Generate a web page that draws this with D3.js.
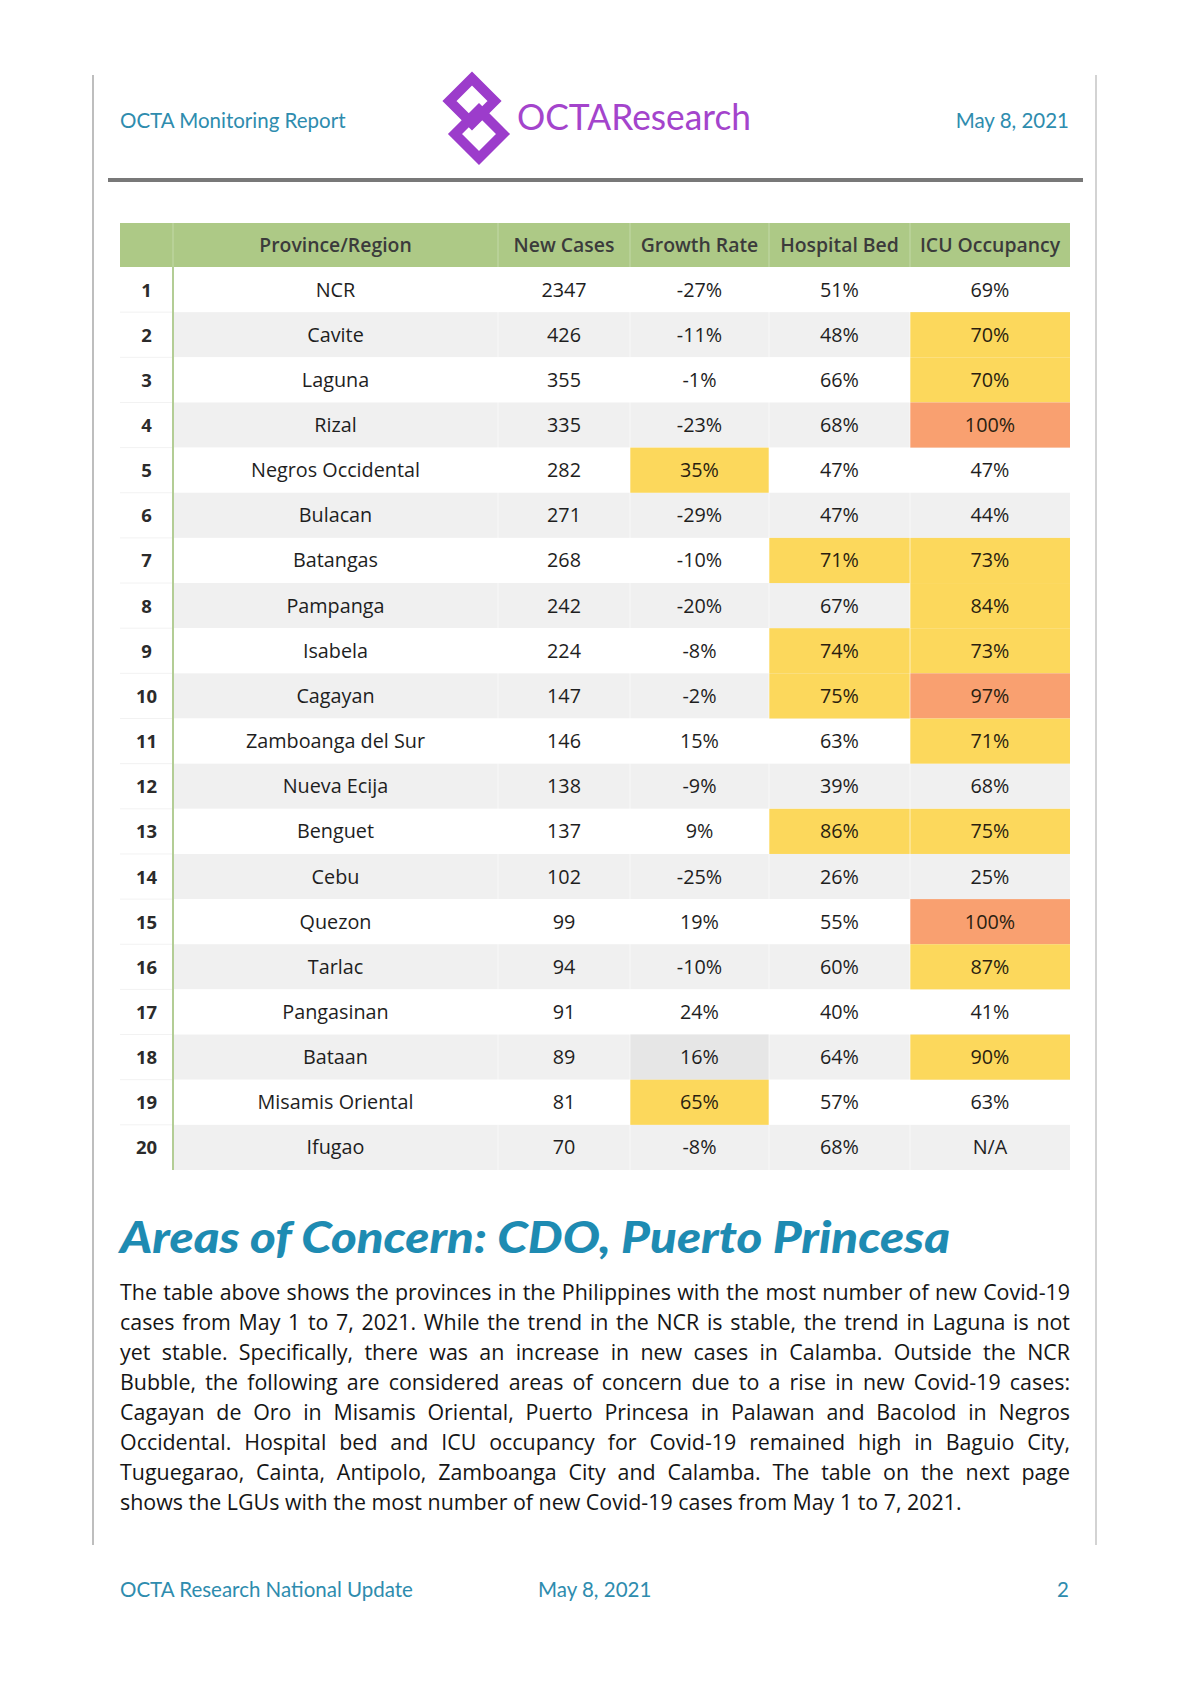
<!DOCTYPE html>
<html><head><meta charset="utf-8">
<script src="https://cdn.jsdelivr.net/npm/d3@7"></script>
<style>
html,body{margin:0;padding:0;background:#fff;}
svg{display:block;}
text{font-family:Lato,"Open Sans",sans-serif;}
text.os{font-family:"Open Sans",Lato,sans-serif;}
</style></head>
<body>
<svg id="c" width="1190" height="1684"></svg>
<script>
// ---------- data ----------
const columns = ["", "Province/Region", "New Cases", "Growth Rate", "Hospital Bed", "ICU Occupancy"];
const ranks = [1,2,3,4,5,6,7,8,9,10,11,12,13,14,15,16,17,18,19,20];
const provinces = ["NCR","Cavite","Laguna","Rizal","Negros Occidental","Bulacan","Batangas","Pampanga","Isabela","Cagayan","Zamboanga del Sur","Nueva Ecija","Benguet","Cebu","Quezon","Tarlac","Pangasinan","Bataan","Misamis Oriental","Ifugao"];
const newCases = [2347,426,355,335,282,271,268,242,224,147,146,138,137,102,99,94,91,89,81,70];
const growthRate = [-27,-11,-1,-23,35,-29,-10,-20,-8,-2,15,-9,9,-25,19,-10,24,16,65,-8];
const hospitalBed = [51,48,66,68,47,47,71,67,74,75,63,39,86,26,55,60,40,64,57,68];
const icuOccupancy = [69,70,70,100,47,44,73,84,73,97,71,68,75,25,100,87,41,90,63,null];
// alert levels per cell: "" none, "y" high, "o" critical, "g" flagged
const growthLevel = ["","","","","y","","","","","","","","","","","","","g","y",""];
const hospitalLevel = ["","","","","","","y","","y","y","","","y","","","","","","",""];
const icuLevel = ["","y","y","o","","","y","y","y","o","y","","y","","o","y","","y","",""];

const headerLeft = "OCTA Monitoring Report";
const headerBrand = "OCTAResearch";
const reportDate = "May 8, 2021";
const title = "Areas of Concern: CDO, Puerto Princesa";
const paragraphLines = [
 "The table above shows the provinces in the Philippines with the most number of new Covid-19",
 "cases from May 1 to 7, 2021.  While the trend in the NCR is stable, the trend in Laguna is not",
 "yet stable. Specifically, there was an increase in new cases in Calamba. Outside the NCR",
 "Bubble, the following are considered areas of concern due to a rise in new Covid-19 cases:",
 "Cagayan de Oro in Misamis Oriental, Puerto Princesa in Palawan and Bacolod in Negros",
 "Occidental. Hospital bed and ICU occupancy for Covid-19 remained high in Baguio City,",
 "Tuguegarao, Cainta, Antipolo, Zamboanga City and Calamba. The table on the next page",
 "shows the LGUs with the most number of new Covid-19 cases from May 1 to 7, 2021."
];
const footerLeft = "OCTA Research National Update";
const pageNumber = "2";

// ---------- drawing ----------
const svg = d3.select("#c");
const teal = "#2e8cae";
const levelColor = {"": null, "y": "#fcd85c", "o": "#f9a070", "g": "#e6e6e6"};

// page frame
svg.append("line").attr("x1",93).attr("x2",93).attr("y1",75).attr("y2",1545).attr("stroke","#a8a8a8").attr("stroke-width",1.5);
svg.append("line").attr("x1",1096).attr("x2",1096).attr("y1",75).attr("y2",1545).attr("stroke","#c4c4c4").attr("stroke-width",1.5);

// header
svg.append("text").attr("x",120).attr("y",128).attr("font-size",20.5).attr("fill",teal).text(headerLeft);
svg.append("text").attr("x",1069).attr("y",128).attr("text-anchor","end").attr("font-size",20.5).attr("fill",teal).text(reportDate);
const purple = "#9c3ccb";
function diamond(cx, cy, r){ return `M${cx},${cy-r} L${cx+r},${cy} L${cx},${cy+r} L${cx-r},${cy} Z`; }
const logo = svg.append("g");
logo.append("path").attr("d",diamond(479,134,24)).attr("fill","none").attr("stroke",purple).attr("stroke-width",10).attr("stroke-linejoin","miter");
logo.append("path").attr("d",diamond(472,101,22.5)).attr("fill","none").attr("stroke",purple).attr("stroke-width",10).attr("stroke-linejoin","miter");
svg.append("text").attr("x",517).attr("y",130).attr("font-size",37).attr("fill","#a444cc")
  .attr("textLength",234).attr("lengthAdjust","spacingAndGlyphs").text(headerBrand);
svg.append("line").attr("x1",108).attr("x2",1083).attr("y1",180).attr("y2",180).attr("stroke","#787878").attr("stroke-width",4);

// table
const colEdges = [120,173,498,630,769,910,1070];
const colKeys = columns.map((c,i)=>i);
const xStart = d3.scaleOrdinal().domain(colKeys).range(colEdges.slice(0,6));
const xEnd = d3.scaleOrdinal().domain(colKeys).range(colEdges.slice(1));
const xMid = k => (xStart(k)+xEnd(k))/2;
const headerTop = 223, headerH = 44;
const y = d3.scaleBand().domain(ranks).range([267,1170]).padding(0);

const table = svg.append("g");
table.append("rect").attr("x",colEdges[0]).attr("y",headerTop).attr("width",colEdges[6]-colEdges[0]).attr("height",headerH).attr("fill","#adc986");
table.selectAll(".hsep").data(colEdges.slice(1,6)).join("line")
  .attr("x1",d=>d).attr("x2",d=>d).attr("y1",headerTop).attr("y2",headerTop+headerH).attr("stroke","#c3d9a8").attr("stroke-width",1);
table.selectAll(".htext").data(colKeys.slice(1)).join("text").attr("class","os")
  .attr("x",d=>xMid(d)).attr("y",headerTop+headerH/2+7).attr("text-anchor","middle")
  .attr("font-size",19.4).attr("font-weight",600).attr("fill","#3b3b3b").text(d=>columns[d]);

const rows = ranks.map((r,i)=>({
  rank:r, i,
  cells:[
    {k:1, t:provinces[i], lvl:""},
    {k:2, t:String(newCases[i]), lvl:""},
    {k:3, t:growthRate[i]+"%", lvl:growthLevel[i]},
    {k:4, t:hospitalBed[i]+"%", lvl:hospitalLevel[i]},
    {k:5, t:icuOccupancy[i]==null?"N/A":icuOccupancy[i]+"%", lvl:icuLevel[i]}
  ]
}));

// row backgrounds
table.selectAll(".rowbg").data(rows).join("rect")
  .attr("x",xStart(1)).attr("y",d=>y(d.rank)).attr("width",colEdges[6]-xStart(1)).attr("height",y.bandwidth())
  .attr("fill",d=>d.i%2===1?"#f0f0f0":"#ffffff");
// rank column separators
table.selectAll(".rsep").data(rows.slice(1)).join("line")
  .attr("x1",colEdges[0]).attr("x2",colEdges[1]).attr("y1",d=>y(d.rank)).attr("y2",d=>y(d.rank))
  .attr("stroke","#f2f2f2").attr("stroke-width",1);
// highlighted cells
const flat = rows.flatMap(r=>r.cells.map(c=>({...c, rank:r.rank, i:r.i})));
table.selectAll(".hl").data(flat.filter(c=>levelColor[c.lvl])).join("rect")
  .attr("x",d=>xStart(d.k)).attr("y",d=>y(d.rank)).attr("width",d=>xEnd(d.k)-xStart(d.k)).attr("height",y.bandwidth())
  .attr("fill",d=>levelColor[d.lvl]);
// faint column separators in body
table.selectAll(".bsep").data(colEdges.slice(2,6)).join("line")
  .attr("x1",d=>d).attr("x2",d=>d).attr("y1",267).attr("y2",1170).attr("stroke","#ffffff").attr("stroke-opacity",0.6).attr("stroke-width",1);
// green rank divider
table.append("line").attr("x1",173).attr("x2",173).attr("y1",267).attr("y2",1170).attr("stroke","#b3cd95").attr("stroke-width",2);
// rank text
table.selectAll(".rank").data(rows).join("text").attr("class","os")
  .attr("x",xMid(0)).attr("y",d=>y(d.rank)+y.bandwidth()/2+7).attr("text-anchor","middle")
  .attr("font-size",18.5).attr("font-weight",700).attr("fill","#2b2b2b").text(d=>d.rank);
// cell text
table.selectAll(".cell").data(flat).join("text").attr("class","os")
  .attr("x",d=>xMid(d.k)).attr("y",d=>y(d.rank)+y.bandwidth()/2+7).attr("text-anchor","middle")
  .attr("font-size",19.8).attr("fill",d=>d.lvl==="y"||d.lvl==="o"?"#2a1e10":"#1e1e1e").text(d=>d.t);

// title
svg.append("text").attr("x",120).attr("y",1253).attr("font-size",43).attr("font-weight",900).attr("font-style","italic")
  .attr("fill","#1e8bb2").attr("textLength",830).attr("lengthAdjust","spacingAndGlyphs").text(title);

// justified paragraph
const pLeft = 120, pRight = 1070, pTop = 1300, lineH = 30.07, pSize = 21.4;
const para = svg.append("g");
function ptext(){ return para.append("text").attr("class","os").attr("font-size",pSize).attr("fill","#151515"); }
paragraphLines.forEach((line, li) => {
  const by = pTop + li*lineH;
  if (li === paragraphLines.length-1) {
    ptext().attr("x",pLeft).attr("y",by).text(line);
    return;
  }
  const words = line.split(/ +/);
  const widths = words.map(w=>{
    const t = ptext().attr("x",-1000).attr("y",-1000).text(w);
    const wd = t.node().getComputedTextLength(); t.remove(); return wd;
  });
  const total = d3.sum(widths);
  const gap = (pRight - pLeft - total)/(words.length-1);
  const t = ptext().attr("y",by);
  let x = pLeft;
  words.forEach((w,wi)=>{
    t.append("tspan").attr("x",x).attr("y",by).text(w);
    x += widths[wi] + gap;
  });
});

// footer
svg.append("text").attr("x",120).attr("y",1597).attr("font-size",20.5).attr("fill",teal).text(footerLeft);
svg.append("text").attr("x",538).attr("y",1597).attr("font-size",20.5).attr("fill",teal).text(reportDate);
svg.append("text").attr("x",1069).attr("y",1597).attr("text-anchor","end").attr("font-size",20.5).attr("fill",teal).text(pageNumber);
</script>
</body></html>
